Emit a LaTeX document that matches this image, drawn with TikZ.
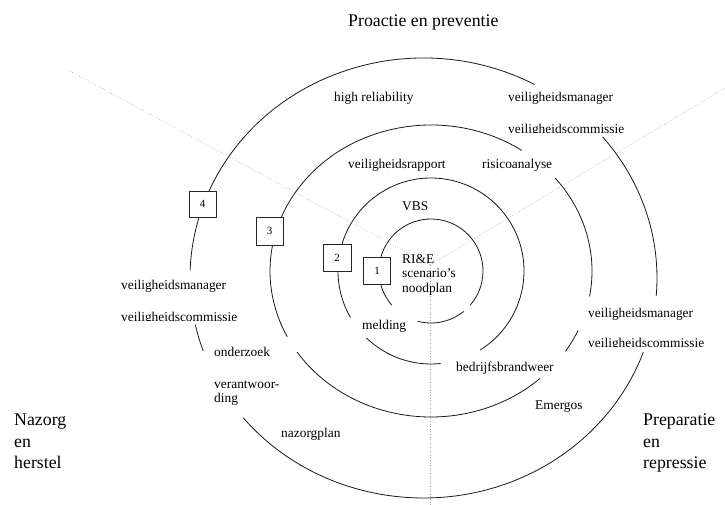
\documentclass[tikz,border=0pt]{standalone}
\usepackage{fontspec}
\setmainfont{Liberation Serif}
\newcommand\ringseg[6]{%
  \draw[ring] ([shift={(#5:#3 and #4)}]#1,-#2) arc[start angle=#5,end angle=#6,x radius=#3,y radius=#4];}
\begin{document}
\begin{tikzpicture}[x=1pt,y=1pt,
  lbl/.style={inner sep=0pt,anchor=base west,font=\fontsize{13.4}{14.5}\selectfont},
  big/.style={inner sep=0pt,anchor=base west,font=\fontsize{17.8}{21.5}\selectfont},
  numbox/.style={draw=black!85,line width=0.8pt,fill=white,inner sep=0pt,font=\fontsize{11}{12}\selectfont},
  ring/.style={line width=0.8pt,black!90},
  ray/.style={gray!70,dotted,line width=0.6pt}]
\useasboundingbox (0,0) rectangle (725,-505);
\fill[white] (0,0) rectangle (725,-505);

% dotted rays
\coordinate (apex) at (430,-265);
\coordinate (rayL) at (68,-70);
\coordinate (rayR) at (725,-88);
\coordinate (rayD) at (430,-505);
\draw[ray] (apex) -- (rayL);
\draw[ray] (apex) -- (rayR);
\draw[ray] (apex) -- (rayD);

% ring 1
\ringseg{431}{271}{52}{52}{-41}{221}
\ringseg{431}{271}{52}{52}{255}{309}
% ring 2
\ringseg{431}{271}{93}{93}{-58}{210}
\ringseg{431}{271}{93}{93}{226}{276}
% ring 3
\ringseg{431}{271}{161}{146}{55.7}{206.8}
\ringseg{431}{271}{161}{146}{213.7}{312.7}
\ringseg{431}{271}{161}{146}{-33.4}{-24}
\ringseg{431}{271}{161}{146}{-10}{39.5}
% ring 4
\ringseg{423.5}{278}{233.5}{220}{61.6}{178}
\ringseg{423.5}{278}{233.5}{220}{192.3}{199.4}
\ringseg{423.5}{278}{233.5}{220}{219.4}{340.3}
\ringseg{423.5}{278}{233.5}{220}{-4.7}{39.9}

% numbered boxes
\node[numbox,minimum width=27pt,minimum height=27pt] (b1) at (377,-271) {1};
\node[numbox,minimum width=28pt,minimum height=27pt] (b2) at (337,-257.5) {2};
\node[numbox,minimum width=27pt,minimum height=28pt] (b3) at (269.5,-231) {3};
\node[numbox,minimum width=27pt,minimum height=26pt] (b4) at (202.5,-204) {4};

% labels
\node[big] (tpro) at (348,-26.5) {Proactie en preventie};
\node[lbl] (thr) at (334,-102) {high reliability};
\node[lbl] (tvma) at (508,-102) {veiligheidsmanager};
\begin{scope}
  \clip (500,-118) rectangle (640,-133);
  \node[lbl] (tvca) at (508,-134) {veiligheidscommissie};
\end{scope}
\node[lbl] (tvr) at (348,-168.5) {veiligheidsrapport};
\node[lbl] (tra) at (482,-168.5) {risicoanalyse};
\node[lbl] (tvbs) at (402,-211) {VBS};
\node[lbl] (trie) at (402,-263) {RI\&E};
\node[lbl] (tsc) at (402,-277.5) {scenario's};
\node[lbl] (tnp) at (402,-292) {noodplan};
\node[lbl] (tmel) at (362,-329) {melding};
\node[lbl] (tvmb) at (121,-289) {veiligheidsmanager};
\begin{scope}
  \clip (115,-305) rectangle (250,-320);
  \node[lbl] (tvcb) at (121,-321) {veiligheidscommissie};
\end{scope}
\node[lbl] (toz) at (214,-356) {onderzoek};
\node[lbl] (tva) at (214,-388) {verantwoor-};
\node[lbl] (tding) at (214,-402.5) {ding};
\node[lbl] (tnz) at (281,-437) {nazorgplan};
\node[lbl] (tbb) at (456,-371) {bedrijfsbrandweer};
\node[lbl] (tem) at (535,-409) {Emergos};
\node[lbl] (tvmc) at (588,-317.5) {veiligheidsmanager};
\begin{scope}
  \clip (580,-332) rectangle (720,-346.7);
  \node[lbl] (tvcc) at (588,-347.5) {veiligheidscommissie};
\end{scope}
\node[big] (tnaza) at (14,-425.5) {Nazorg};
\node[big] (tnazb) at (14,-447) {en};
\node[big] (tnazc) at (14,-468) {herstel};
\node[big] (tprea) at (643,-425.5) {Preparatie};
\node[big] (tpreb) at (643,-447) {en};
\node[big] (tprec) at (643,-468) {repressie};
\end{tikzpicture}
\end{document}
